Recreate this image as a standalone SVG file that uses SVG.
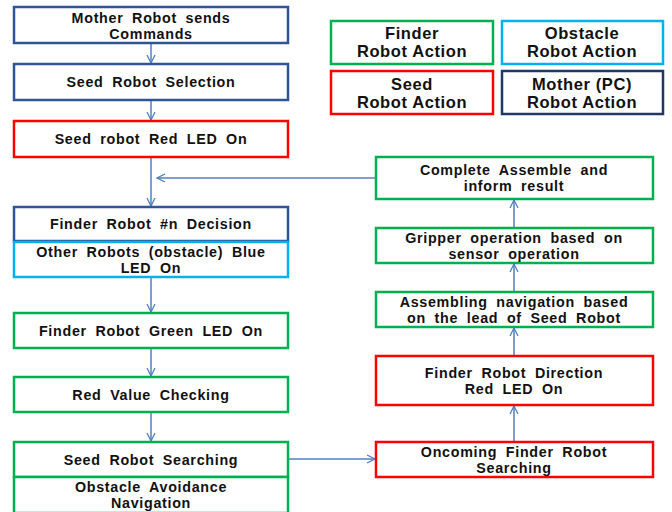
<svg xmlns="http://www.w3.org/2000/svg" width="672" height="512" viewBox="0 0 672 512">
<defs>
<marker id="ah" viewBox="0 0 10 10" refX="9" refY="5" markerWidth="10" markerHeight="10" markerUnits="userSpaceOnUse" orient="auto">
<path d="M1,1 L9,5 L1,9" fill="none" stroke="#4F81BD" stroke-width="1.3"/>
</marker>
</defs>
<style>
rect{fill:#fff;stroke-width:2.5}
.mo{stroke:#2F5597}
.md{stroke:#1F3864}
.sd{stroke:#FF0000}
.fd{stroke:#00B050}
.ob{stroke:#00B0F0}
text{font-family:"Liberation Sans",Arial,sans-serif;font-weight:bold;font-size:14.3px;letter-spacing:0.7px;word-spacing:4px;fill:#111;text-anchor:middle}
.lg{font-size:16.5px;letter-spacing:0.6px;word-spacing:0}
.c{fill:none;stroke:#4F81BD;stroke-width:1.5}
</style>
<rect width="672" height="512" fill="#fff" stroke="none"/>
<g id="connectors">
<line class="c" x1="151" y1="43" x2="151" y2="63" marker-end="url(#ah)"/>
<line class="c" x1="151" y1="100" x2="151" y2="120" marker-end="url(#ah)"/>
<line class="c" x1="151" y1="157" x2="151" y2="206" marker-end="url(#ah)"/>
<line class="c" x1="376" y1="178" x2="157" y2="178" marker-end="url(#ah)"/>
<line class="c" x1="151" y1="277" x2="151" y2="312" marker-end="url(#ah)"/>
<line class="c" x1="151" y1="348" x2="151" y2="376" marker-end="url(#ah)"/>
<line class="c" x1="151" y1="412" x2="151" y2="441" marker-end="url(#ah)"/>
<line class="c" x1="288" y1="459" x2="375" y2="459" marker-end="url(#ah)"/>
<line class="c" x1="514" y1="441" x2="514" y2="406" marker-end="url(#ah)"/>
<line class="c" x1="514" y1="355" x2="514" y2="328" marker-end="url(#ah)"/>
<line class="c" x1="514" y1="292" x2="514" y2="264" marker-end="url(#ah)"/>
<line class="c" x1="514" y1="227" x2="514" y2="200" marker-end="url(#ah)"/>
</g>
<g id="n1"><rect class="mo" x="14" y="7" width="274" height="36"/><text x="151" y="22.5">Mother Robot sends</text><text x="151" y="39">Commands</text></g>
<g id="n2"><rect class="mo" x="14" y="64" width="274" height="36"/><text x="151" y="87">Seed Robot Selection</text></g>
<g id="n3"><rect class="sd" x="14" y="121" width="274" height="36"/><text x="151" y="144">Seed robot Red LED On</text></g>
<g id="n4"><rect class="mo" x="14" y="207" width="274" height="34"/><text x="151" y="229">Finder Robot #n Decision</text></g>
<g id="n5"><rect class="ob" x="14" y="242" width="274" height="35"/><text x="151" y="256.5">Other Robots (obstacle) Blue</text><text x="151" y="273">LED On</text></g>
<g id="n6"><rect class="fd" x="14" y="313" width="274" height="35"/><text x="151" y="336">Finder Robot Green LED On</text></g>
<g id="n7"><rect class="fd" x="14" y="377" width="274" height="35"/><text x="151" y="400">Red Value Checking</text></g>
<g id="n8"><rect class="fd" x="14" y="442" width="274" height="35"/><text x="151" y="465">Seed Robot Searching</text></g>
<g id="n9"><rect class="fd" x="14" y="477" width="274" height="36"/><text x="151" y="491.5">Obstacle Avoidance</text><text x="151" y="508">Navigation</text></g>
<g id="n10"><rect class="fd" x="376" y="157" width="277" height="42"/><text x="514" y="174.5">Complete Assemble and</text><text x="514" y="191">inform result</text></g>
<g id="n11"><rect class="fd" x="376" y="228" width="277" height="35"/><text x="514" y="242.5">Gripper operation based on</text><text x="514" y="259">sensor operation</text></g>
<g id="n12"><rect class="fd" x="376" y="292" width="277" height="35"/><text x="514" y="306.5">Assembling navigation based</text><text x="514" y="323">on the lead of Seed Robot</text></g>
<g id="n13"><rect class="sd" x="376" y="356" width="277" height="49"/><text x="514" y="377.5">Finder Robot Direction</text><text x="514" y="394">Red LED On</text></g>
<g id="n14"><rect class="sd" x="376" y="442" width="277" height="35"/><text x="514" y="456.5">Oncoming Finder Robot</text><text x="514" y="473">Searching</text></g>
<g id="legend-finder"><rect class="fd" x="331" y="21" width="162" height="43"/><text class="lg" x="412" y="39">Finder</text><text class="lg" x="412" y="57">Robot Action</text></g>
<g id="legend-obstacle"><rect class="ob" x="502" y="21" width="161" height="43"/><text class="lg" x="582" y="39">Obstacle</text><text class="lg" x="582" y="57">Robot Action</text></g>
<g id="legend-seed"><rect class="sd" x="331" y="71" width="162" height="43"/><text class="lg" x="412" y="90">Seed</text><text class="lg" x="412" y="108">Robot Action</text></g>
<g id="legend-mother"><rect class="md" x="502" y="71" width="161" height="43"/><text class="lg" x="582" y="90">Mother (PC)</text><text class="lg" x="582" y="108">Robot Action</text></g>
</svg>
